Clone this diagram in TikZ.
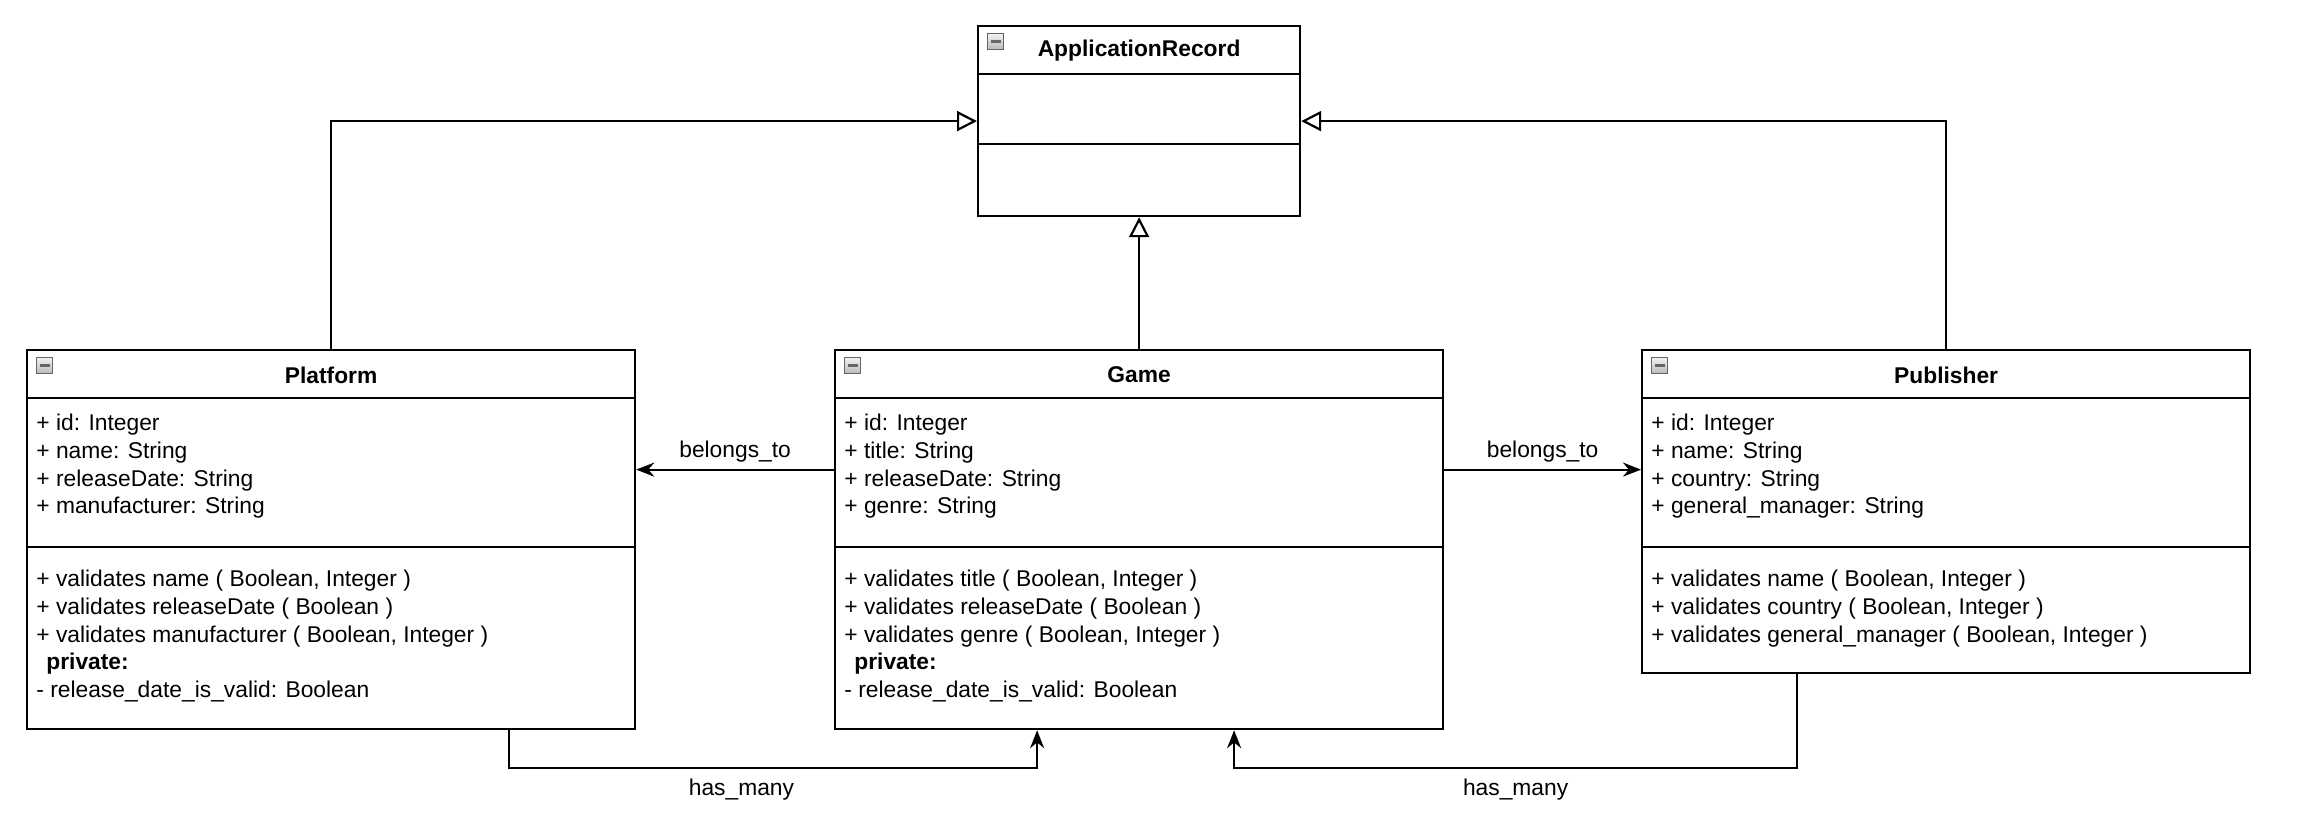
\documentclass[tikz,border=0pt]{standalone}
\usepackage{fontspec}
\setmainfont{Liberation Sans}
\usetikzlibrary{arrows.meta,positioning,calc}
\newcommand{\umlfont}{\fontsize{11.4}{13.8}\selectfont}
\tikzset{
  classbox/.style={draw, line width=1.1pt, fill=white, inner sep=0pt, anchor=north west, minimum width=304pt},
  classname/.style={font=\umlfont\bfseries, inner sep=0pt},
  members/.style={anchor=north west, align=left, inner sep=0pt, font=\umlfont},
  divider/.style={line width=1.1pt},
  collapse/.style={draw=gray!80!black, line width=0.5pt, top color=gray!10, bottom color=gray!55,
    anchor=north west, minimum size=8pt, inner sep=0pt,
    path picture={\draw[line width=1.1pt] ([xshift=1.5pt]path picture bounding box.west) -- ([xshift=-1.5pt]path picture bounding box.east);}},
  inherit/.style={-{Triangle[open,length=10pt,width=10pt]}, line width=1.1pt},
  assoc/.style={-{Stealth[length=9pt,width=7pt]}, line width=1.1pt},
  rellabel/.style={font=\umlfont, inner sep=0pt},
}

\begin{document}
\begin{tikzpicture}[x=0.5pt,y=-0.5pt]
  \useasboundingbox (0,0) rectangle (2310,826);
  % classes
  \node[classbox, minimum width=161pt, minimum height=95pt] (ar) at (977,25) {};
  \node[classbox, minimum height=189.5pt] (platform) at (26,349) {};
  \node[classbox, minimum height=189.5pt] (game) at (834,349) {};
  \node[classbox, minimum height=161.5pt] (publisher) at (1641,349) {};

  \draw[divider] ([yshift=-24.5pt]ar.north west) -- ([yshift=-24.5pt]ar.north east);
  \draw[divider] ([yshift=-59.5pt]ar.north west) -- ([yshift=-59.5pt]ar.north east);
  \node[collapse] (arcoll) at ([xshift=5pt,yshift=-4pt]ar.north west) {};
  \node[classname] (artitle) at ([yshift=-13pt]ar.north) {ApplicationRecord};

  \foreach \c in {platform,game,publisher} {
    \draw[divider] ([yshift=-24.5pt]\c.north west) -- ([yshift=-24.5pt]\c.north east);
    \draw[divider] ([yshift=-99pt]\c.north west) -- ([yshift=-99pt]\c.north east);
    \node[collapse] (\c coll) at ([xshift=5pt,yshift=-4pt]\c.north west) {};
  }

  \node[classname] (plattitle) at ([yshift=-13pt]platform.north) {Platform};
  \node[members] (platattr) at ([xshift=5pt,yshift=-32.5pt]platform.north west)
    {+ id: Integer\\+ name: String\\+ releaseDate: String\\+ manufacturer: String};
  \node[members] (platmeth) at ([xshift=5pt,yshift=-110.5pt]platform.north west)
    {+ validates name ( Boolean, Integer )\\+ validates releaseDate ( Boolean )\\
     + validates manufacturer ( Boolean, Integer )\\\hspace{5pt}\textbf{private:}\\
     - release\_date\_is\_valid: Boolean};

  \node[classname] (gametitle) at ([yshift=-13pt]game.north) {Game};
  \node[members] (gameattr) at ([xshift=5pt,yshift=-32.5pt]game.north west)
    {+ id: Integer\\+ title: String\\+ releaseDate: String\\+ genre: String};
  \node[members] (gamemeth) at ([xshift=5pt,yshift=-110.5pt]game.north west)
    {+ validates title ( Boolean, Integer )\\+ validates releaseDate ( Boolean )\\
     + validates genre ( Boolean, Integer )\\\hspace{5pt}\textbf{private:}\\
     - release\_date\_is\_valid: Boolean};

  \node[classname] (pubtitle) at ([yshift=-13pt]publisher.north) {Publisher};
  \node[members] (pubattr) at ([xshift=5pt,yshift=-32.5pt]publisher.north west)
    {+ id: Integer\\+ name: String\\+ country: String\\+ general\_manager: String};
  \node[members] (pubmeth) at ([xshift=5pt,yshift=-110.5pt]publisher.north west)
    {+ validates name ( Boolean, Integer )\\+ validates country ( Boolean, Integer )\\
     + validates general\_manager ( Boolean, Integer )};

  % inheritance
  \draw[inherit] (platform.north) |- (ar.west);
  \draw[inherit] (publisher.north) |- (ar.east);
  \draw[inherit] (game.north) -- (ar.south);

  % associations
  \draw[assoc] ([yshift=35pt]game.west) -- ([yshift=35pt]platform.east)
    node[rellabel, midway, above=3pt] {belongs\_to};
  \draw[assoc] ([yshift=35pt]game.east) -- ([yshift=35pt]game.east -| publisher.west)
    node[rellabel, midway, above=3pt] {belongs\_to};
  \draw[assoc] ([xshift=89pt]platform.south) -- ++(0,38) -| ([xshift=-51pt]game.south)
    node[rellabel, pos=0.22, below=5pt] {has\_many};
  \draw[assoc] ([xshift=-74.5pt]publisher.south) -- ++(0,94) -| ([xshift=47.5pt]game.south)
    node[rellabel, pos=0.25, below=5pt] {has\_many};
\end{tikzpicture}
\end{document}
